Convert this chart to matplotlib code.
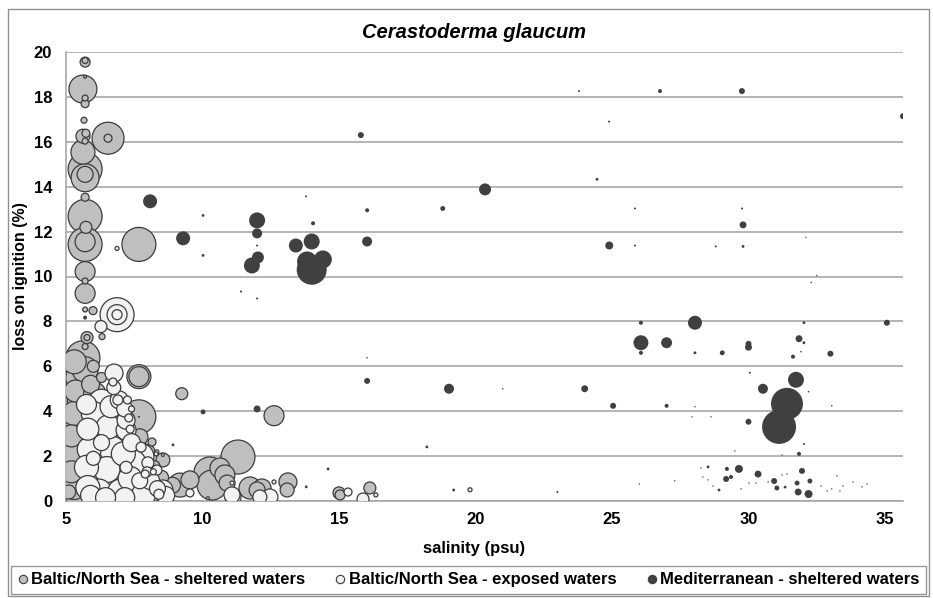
import numpy as np
import matplotlib
matplotlib.use("Agg")
import matplotlib.pyplot as plt
from matplotlib.lines import Line2D
from matplotlib.patches import Rectangle

plt.rcParams['font.family'] = ['Liberation Sans', 'DejaVu Sans']

# (salinity psu, loss on ignition %, bubble value)
sheltered_pts = [
    (5.70, 19.55, 25), (5.70, 19.62, 9), (5.70, 18.90, 2), (5.62, 18.35, 196),
    (5.70, 17.95, 9), (5.70, 17.70, 16), (5.66, 16.96, 9), (6.54, 16.16, 256),
    (6.54, 16.16, 16), (5.62, 16.25, 49), (5.73, 16.38, 16), (5.70, 16.03, 9),
    (5.62, 15.54, 144), (5.70, 14.78, 289), (5.70, 14.55, 64), (5.70, 14.40, 196),
    (5.70, 13.53, 16), (5.70, 12.68, 289), (5.73, 12.19, 36), (5.70, 11.43, 289),
    (5.70, 11.55, 100), (7.67, 11.43, 289), (5.70, 10.22, 100), (5.70, 9.80, 9),
    (5.70, 9.25, 100), (5.70, 8.53, 6), (5.99, 8.48, 16), (6.32, 7.32, 9),
    (5.77, 7.28, 36), (5.77, 7.28, 9), (5.70, 6.88, 9), (5.62, 6.38, 289),
    (5.70, 5.85, 169), (7.67, 5.54, 144), (7.67, 5.54, 100), (9.24, 4.78, 36),
    (7.67, 3.75, 289), (7.71, 2.86, 64), (12.62, 3.80, 100), (11.30, 1.96, 289),
    (10.27, 1.25, 256), (10.64, 1.47, 100), (10.82, 1.16, 100), (9.54, 0.94, 81),
    (10.35, 0.71, 225), (9.18, 0.71, 144), (13.13, 0.85, 81), (13.10, 0.49, 49),
    (10.90, 0.80, 64), (11.74, 0.58, 121), (12.18, 0.58, 81), (12.00, 0.49, 64),
    (8.55, 1.83, 49), (8.15, 2.63, 16), (15.04, 0.27, 25), (15.00, 0.36, 36),
    (16.13, 0.58, 36), (8.50, 1.05, 49), (8.90, 0.70, 64),
    (5.30, 6.20, 144), (5.50, 5.50, 196), (5.35, 4.90, 121), (5.60, 4.50, 225),
    (5.30, 3.90, 144), (5.50, 3.40, 196), (5.20, 2.90, 121), (5.55, 2.60, 256),
    (5.30, 2.10, 169), (5.50, 1.70, 225), (5.20, 1.30, 121), (5.55, 1.00, 196),
    (5.30, 0.60, 144), (5.50, 0.30, 225), (5.10, 0.40, 49), (5.90, 5.20, 81),
    (6.05, 4.80, 121), (6.25, 4.10, 169), (6.05, 3.50, 64), (6.40, 3.10, 144),
    (6.10, 2.40, 100), (6.45, 1.90, 196), (6.05, 1.50, 81), (6.35, 1.00, 169),
    (6.65, 0.60, 121), (6.25, 0.30, 100), (6.90, 0.50, 81), (7.25, 0.90, 144),
    (7.45, 0.30, 100), (7.85, 0.60, 169), (8.10, 0.30, 81), (7.90, 1.10, 81),
    (8.20, 1.50, 49), (7.60, 2.50, 81), (8.00, 2.20, 49), (7.00, 3.80, 100),
    (6.60, 4.55, 81), (6.00, 6.00, 36), (6.30, 5.50, 25), (6.80, 3.00, 64),
]

exposed_pts = [
    (6.87, 11.25, 4), (6.87, 8.30, 289), (6.87, 8.30, 100), (6.87, 8.30, 25),
    (6.28, 7.77, 36), (6.76, 5.70, 81), (6.72, 5.30, 16), (11.12, 0.18, 64),
    (12.47, 0.18, 64), (8.55, 0.49, 100), (9.54, 0.36, 16), (10.20, 0.13, 2),
    (8.33, 1.38, 25), (8.33, 2.19, 4), (8.55, 2.05, 2), (7.71, 1.96, 196),
    (7.97, 1.30, 25), (11.08, 0.27, 64), (12.10, 0.18, 49), (12.62, 0.85, 4),
    (11.08, 0.80, 4), (15.33, 0.40, 16), (16.35, 0.27, 4), (15.88, 0.09, 36),
    (19.80, 0.50, 4),
    (5.75, 4.30, 100), (6.00, 3.90, 144), (6.30, 4.40, 169), (6.65, 4.20, 121),
    (6.95, 4.50, 81), (7.15, 4.10, 64), (7.20, 3.60, 81), (5.80, 3.20, 121),
    (6.15, 2.90, 196), (6.55, 3.30, 144), (6.90, 3.00, 169), (7.20, 3.15, 100),
    (7.40, 2.60, 81), (5.85, 2.30, 144), (6.25, 2.00, 196), (6.70, 2.30, 169),
    (7.10, 2.10, 144), (7.45, 1.70, 169), (5.75, 1.50, 144), (6.10, 1.20, 196),
    (6.50, 1.40, 169), (6.95, 1.30, 196), (7.35, 1.00, 144), (5.80, 0.60, 144),
    (6.20, 0.40, 169), (6.60, 0.70, 196), (7.00, 0.40, 169), (7.45, 0.50, 196),
    (7.85, 0.30, 144), (8.10, 0.90, 81), (8.35, 0.55, 64), (8.65, 0.25, 81),
    (8.00, 1.70, 36), (7.75, 2.40, 25), (7.30, 3.70, 16), (7.35, 3.20, 16),
    (7.40, 4.10, 9), (7.25, 4.50, 16), (6.75, 5.05, 49), (6.90, 4.50, 25),
    (7.20, 1.50, 36), (7.90, 1.20, 16), (8.20, 1.30, 9), (8.40, 0.30, 25),
    (6.30, 2.60, 64), (6.00, 1.90, 49), (5.90, 0.25, 100), (7.15, 0.15, 100),
    (6.45, 0.15, 100), (7.70, 0.90, 64), (8.30, 2.10, 4),
]

med_pts = [
    (23.79, 18.26, 1), (26.76, 18.26, 4), (29.76, 18.26, 9), (35.66, 17.14, 9),
    (24.89, 16.90, 1), (15.80, 16.30, 9), (24.45, 14.33, 2), (20.35, 13.88, 36),
    (13.79, 13.57, 1), (18.80, 13.03, 6), (25.84, 13.03, 1), (29.76, 13.03, 1),
    (8.08, 13.35, 49), (10.02, 12.72, 2), (12.00, 12.50, 64), (16.03, 12.95, 4),
    (14.05, 12.37, 4), (29.80, 12.30, 12), (12.00, 11.92, 25), (9.29, 11.70, 49),
    (32.10, 11.74, 0.5), (13.42, 11.38, 49), (14.00, 11.56, 64), (16.03, 11.56, 25),
    (12.00, 11.38, 1), (24.90, 11.38, 16), (25.84, 11.38, 1), (28.80, 11.34, 1),
    (29.80, 11.34, 2), (10.02, 10.94, 2), (12.03, 10.85, 36), (11.81, 10.49, 64),
    (14.41, 10.76, 81), (13.83, 10.67, 100), (14.00, 10.30, 225), (32.50, 10.04, 0.5),
    (32.30, 9.73, 0.6), (11.41, 9.33, 1), (12.00, 9.02, 1), (5.70, 8.17, 4),
    (26.06, 7.94, 4), (28.04, 7.94, 49), (32.03, 7.94, 2), (35.07, 7.94, 9),
    (26.06, 7.05, 56), (27.00, 7.05, 30), (30.00, 7.00, 9), (30.00, 6.85, 12),
    (31.85, 7.23, 12), (32.03, 7.05, 2), (31.92, 6.65, 0.6), (26.06, 6.60, 4),
    (28.04, 6.60, 2), (29.04, 6.60, 6), (31.63, 6.43, 4), (33.00, 6.56, 9),
    (16.03, 6.38, 0.6), (30.05, 5.71, 1), (16.03, 5.35, 9), (31.74, 5.40, 64),
    (19.03, 5.00, 25), (21.00, 5.00, 0.6), (24.00, 5.00, 12), (30.53, 5.00, 25),
    (32.20, 4.87, 0.6), (25.04, 4.24, 9), (27.00, 4.24, 4), (31.41, 4.33, 256),
    (31.12, 3.30, 289), (33.05, 4.24, 0.6), (28.04, 4.20, 0.5), (27.93, 3.75, 0.5),
    (28.63, 3.75, 0.5), (30.00, 3.53, 9), (12.00, 4.10, 12), (10.02, 3.97, 6),
    (7.67, 3.75, 1), (8.92, 2.50, 2), (32.03, 2.54, 1), (29.50, 2.23, 0.5),
    (31.23, 2.05, 0.5), (31.85, 2.10, 4), (18.22, 2.41, 2), (14.60, 1.43, 2),
    (13.80, 0.63, 2), (19.20, 0.49, 2), (23.00, 0.40, 1),
    (28.26, 1.47, 0.5), (28.52, 1.52, 2), (29.21, 1.43, 4), (29.65, 1.43, 16),
    (30.35, 1.20, 12), (31.96, 1.34, 9), (29.18, 0.98, 9), (29.36, 1.07, 4),
    (28.33, 1.07, 0.5), (28.52, 0.94, 0.5), (28.70, 0.67, 0.5), (28.92, 0.49, 2),
    (29.73, 0.54, 0.5), (30.02, 0.80, 0.5), (30.94, 0.89, 9), (31.04, 0.58, 6),
    (31.34, 0.62, 2), (31.23, 1.16, 0.5), (31.41, 1.20, 0.5), (31.78, 0.80, 6),
    (31.82, 0.40, 12), (32.25, 0.89, 6), (32.20, 0.31, 16), (32.66, 0.67, 0.5),
    (32.88, 0.45, 0.5), (33.05, 0.54, 0.5), (33.35, 0.45, 0.5), (33.46, 0.67, 0.5),
    (33.83, 0.85, 0.5), (34.16, 0.63, 0.5), (34.34, 0.76, 0.5), (33.24, 1.12, 0.5),
    (30.27, 0.80, 0.5), (30.72, 0.85, 0.5), (26.00, 0.76, 0.5), (27.30, 0.90, 0.5),
]

series_names = ["Baltic/North Sea - sheltered waters",
                "Baltic/North Sea - exposed waters",
                "Mediterranean - sheltered waters"]
x_ticks = [5, 10, 15, 20, 25, 30, 35]
y_ticks = list(range(0, 21, 2))

fills = ["#bfbfbf", "#f2f2f2", "#404040"]
edge = "#3c3c3c"
size_scale = 2.07  # bubble value -> points^2

fig = plt.figure(figsize=(9.33, 5.98), dpi=100)
ax = fig.add_axes([66 / 933, 1 - 501 / 598, 837 / 933, 449 / 598])

for pts, fc in zip([sheltered_pts, exposed_pts, med_pts], fills):
    arr = np.array(pts)
    arr = arr[np.argsort(-arr[:, 2], kind="stable")]  # big bubbles first
    lw = 0.9 if fc != "#404040" else 0.0
    ax.scatter(arr[:, 0], arr[:, 1], s=arr[:, 2] * size_scale,
               facecolor=fc, edgecolor=edge, linewidths=lw, zorder=3)

ax.set_xlim(5, 35.66)
ax.set_ylim(0, 20)
ax.set_xticks(x_ticks)
ax.set_yticks(y_ticks)
ax.tick_params(length=0, labelsize=12)
ax.tick_params(axis="y", pad=10)
ax.tick_params(axis="x", pad=8)
for lab in ax.get_xticklabels() + ax.get_yticklabels():
    lab.set_fontweight("bold")
ax.grid(axis="y", color="#a0a0a0", linewidth=1.1, zorder=0)
ax.set_axisbelow(True)
for side in ["top", "right"]:
    ax.spines[side].set_visible(False)
for side in ["left", "bottom"]:
    ax.spines[side].set_color("#a0a0a0")
    ax.spines[side].set_linewidth(1.1)

ax.set_ylabel("loss on ignition (%)", fontsize=11.5, fontweight="bold", labelpad=4)
fig.text(474 / 933, 1 - 548 / 598, "salinity (psu)", fontsize=12,
         fontweight="bold", ha="center", va="center")
fig.text(474 / 933, 1 - 32 / 598, "Cerastoderma glaucum", fontsize=14.5,
         fontweight="bold", fontstyle="italic", ha="center", va="center")

handles = [Line2D([], [], linestyle="none", marker="o", markersize=6,
                  markerfacecolor=fc, markeredgecolor=edge, markeredgewidth=0.8)
           for fc in fills]
leg = fig.legend(handles, series_names, ncol=3, loc="lower left",
                 bbox_to_anchor=(11 / 933, 4 / 598, 915 / 933, 31 / 598),
                 mode="expand", borderaxespad=0, fancybox=False,
                 handlelength=0.6, handletextpad=0.2, borderpad=0.4,
                 prop={"size": 12, "weight": "bold"})
leg.get_frame().set_edgecolor("#808080")
leg.get_frame().set_linewidth(1.0)

fig.patches.append(Rectangle((8 / 933, 2 / 598), 921 / 933, 587 / 598,
                             transform=fig.transFigure, fill=False,
                             edgecolor="#909090", linewidth=1.0))

fig.savefig("out.png", dpi=100)
